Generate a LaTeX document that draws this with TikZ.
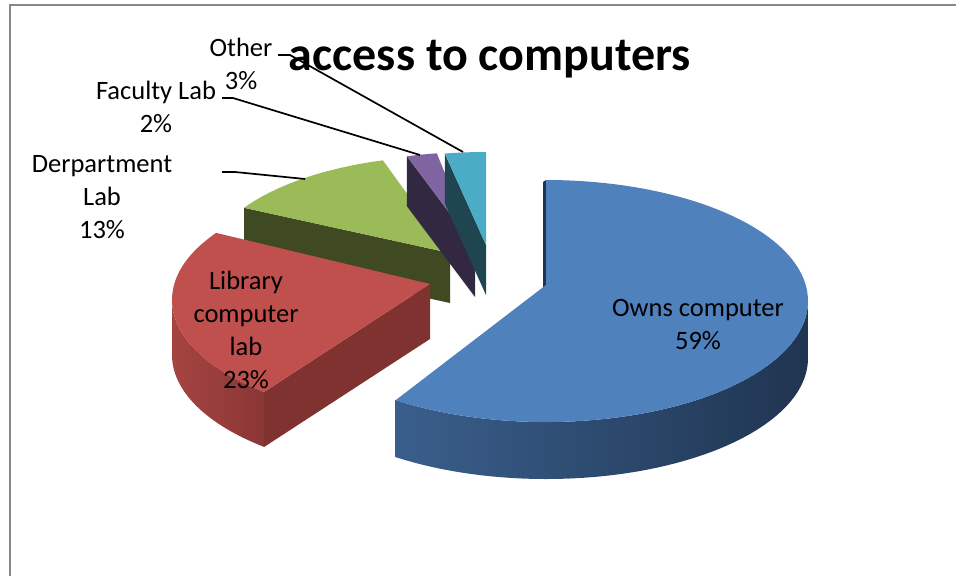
\documentclass[tikz,border=0pt]{standalone}
\usepackage{fontspec}
\setmainfont{Carlito}
\usetikzlibrary{calc}
\definecolor{blueTop}{HTML}{4F81BD}
\definecolor{blueSideL}{HTML}{3A5F8C}
\definecolor{blueSideR}{HTML}{1F3450}
\definecolor{blueCut}{HTML}{1F3450}
\definecolor{redTop}{HTML}{C0504D}
\definecolor{redSideL}{HTML}{A64441}
\definecolor{redSideR}{HTML}{8A3735}
\definecolor{redCut}{HTML}{7F3230}
\definecolor{greenTop}{HTML}{9BBB59}
\definecolor{greenCut}{HTML}{3F4A22}
\definecolor{purpleTop}{HTML}{8064A2}
\definecolor{purpleCut}{HTML}{332842}
\definecolor{tealTop}{HTML}{4BACC6}
\definecolor{tealCut}{HTML}{1F4650}
\definecolor{frameGray}{HTML}{878787}
\begin{document}
\begin{tikzpicture}[x=1pt,y=1pt,
  lbl/.style={font=\fontsize{26.5}{33}\selectfont, align=center, inner sep=0pt},
  leader/.style={draw=black, line width=1.7pt},
  eblue/.style={x radius=262pt, y radius=121pt},
  ered/.style={x radius=258pt, y radius=120pt},
  egreen/.style={x radius=245pt, y radius=113pt},
  epurple/.style={x radius=247pt, y radius=111pt},
  eteal/.style={x radius=247pt, y radius=109pt}]
\useasboundingbox (0,0) rectangle (956,-576);
\draw[frameGray, line width=1.5pt] (10,-576) -- (10,-5) -- (956,-5);

% ---------- Department Lab (green) ----------
\coordinate (gA) at (450,-253);
\coordinate (gE) at (450,-269);
\coordinate (gP1) at ($(gE)+(105.9:245pt and 113pt)$);
\coordinate (gP2) at ($(gE)+(147.2:245pt and 113pt)$);
\fill[greenCut] (gA) -- (gP2) -- ++(0,-50) -- ($(gA)+(0,-50)$) -- cycle;
\fill[greenTop] (gA) -- (gP1) arc[egreen, start angle=105.9, end angle=147.2] -- cycle;

% ---------- Library computer lab (red) ----------
\coordinate (rA) at (430,-284);
\coordinate (rE) at (430,-300);
\coordinate (rP1) at ($(rE)+(146:258pt and 120pt)$);
\coordinate (rP2) at ($(rE)+(230:258pt and 120pt)$);
\coordinate (rP0) at ($(rE)+(180:258pt and 120pt)$);
\shade[left color=redSideL, right color=redSideR] (rP0) arc[ered, start angle=180, end angle=230] -- ++(0,-55) arc[ered, start angle=230, end angle=180] -- cycle;
\fill[redCut] (rA) -- (rP2) -- ++(0,-55) -- ($(rA)+(0,-55)$) -- cycle;
\fill[redTop] (rA) -- (rP1) arc[ered, start angle=146, end angle=230] -- cycle;

% ---------- Faculty Lab (purple) ----------
\coordinate (pA) at (475,-247);
\coordinate (pE) at (475,-263);
\coordinate (pP1) at ($(pE)+(98.9:247pt and 111pt)$);
\coordinate (pP2) at ($(pE)+(106:247pt and 111pt)$);
\fill[purpleCut] (pA) -- (pP2) -- ++(0,-50) -- ($(pA)+(0,-50)$) -- cycle;
\fill[purpleTop] (pA) -- (pP1) arc[epurple, start angle=98.9, end angle=106] -- cycle;

% ---------- Other (teal) ----------
\coordinate (tA) at (486,-245);
\coordinate (tE) at (486,-261);
\coordinate (tP1) at ($(tE)+(90:247pt and 109pt)$);
\coordinate (tP2) at ($(tE)+(99.6:247pt and 109pt)$);
\fill[tealCut] (tA) -- (tP2) -- ++(0,-50) -- ($(tA)+(0,-50)$) -- cycle;
\fill[tealTop] (tA) -- (tP1) arc[eteal, start angle=90, end angle=99.6] -- cycle;

% ---------- Owns computer (blue) ----------
\coordinate (bA) at (546,-285);
\coordinate (bE) at (546,-301);
\coordinate (bP1) at ($(bE)+(90:262pt and 121pt)$);
\coordinate (bP2) at ($(bE)+(-125:262pt and 121pt)$);
\shade[left color=blueSideL, right color=blueSideR] (bP2) arc[eblue, start angle=-125, end angle=2] -- ++(0,-57) arc[eblue, start angle=2, end angle=-125] -- cycle;
\fill[blueCut] ($(bP1)+(-3,-2)$) -- (bP1) -- (bA) -- ($(bA)+(-3,-4)$) -- cycle;
\fill[blueTop] (bA) -- (bP2) arc[eblue, start angle=-125, end angle=90] -- cycle;

% ---------- leader lines ----------
\coordinate (othS) at (278,-55);
\coordinate (othT) at (463,-152);
\coordinate (facS) at (222,-98);
\coordinate (facT) at (420,-155);
\coordinate (depS) at (222,-172);
\coordinate (depT) at (305,-179);
\draw[leader] (othS) -- ++(12,0) -- (othT);
\draw[leader] (facS) -- ++(11,0) -- (facT);
\draw[leader] (depS) -- ++(13,0) -- (depT);

% ---------- labels ----------
\node[lbl] (own) at (698,-325) {Owns computer\\59\%};
\node[lbl] (lib) at (246,-330) {Library\\computer\\lab\\23\%};
\node[lbl] (dep) at (102,-197) {Derpartment\\Lab\\13\%};
\node[lbl] (fac) at (156,-107) {Faculty Lab\\2\%};
\node[lbl] (oth) at (241,-64) {Other\\3\%};
\node[font=\fontsize{48}{58}\selectfont\bfseries, anchor=base, inner sep=0pt] (title) at (490,-70) {access to computers};
\end{tikzpicture}
\end{document}
